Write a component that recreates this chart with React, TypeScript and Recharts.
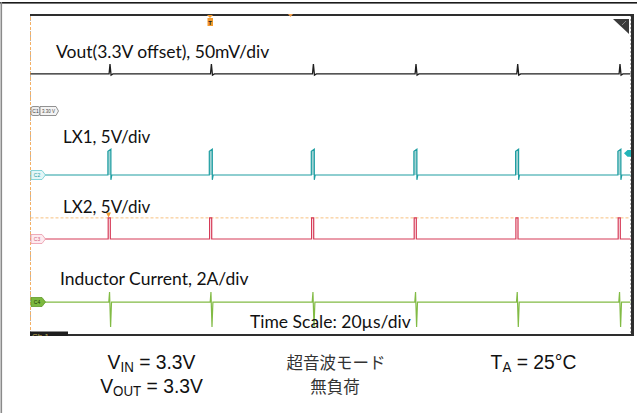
import React from 'react';
import { ComposedChart, Line, Area, XAxis, YAxis, CartesianGrid, ReferenceLine } from 'recharts';

// time axis in µs (20 µs/div, 10 div), vertical in divisions (-5..5)
const xGridTicks = [0, 20, 40, 60, 80, 100, 120, 140, 160, 180, 200];
const yGridTicks = [-5, -4, -3, -2, -1, 0, 1, 2, 3, 4, 5];

// switching burst instants (µs)
const pulseTimes = [26.5, 60.3, 94.3, 128.5, 162.4, 196.5];

// levels in divisions
const voutLevels = { base: 3.16, peak: 3.47, dip: 3.12 };
const lx1Levels = { base: 0, rise: 0.74, peak: 0.81, under: -0.15 };
const lx2Levels = { base: -2.0, peak: -1.34 };
const ilLevels = { base: -3.97, up: -3.66, down: -4.75 };
const triggerLevel = -1.34;

type P = { t: number; v: number };

const voutData: P[] = [{ t: 0, v: voutLevels.base }];
pulseTimes.forEach((p) => {
  voutData.push({ t: p - 0.3, v: voutLevels.base });
  voutData.push({ t: p, v: voutLevels.peak });
  voutData.push({ t: p + 0.35, v: voutLevels.dip });
  voutData.push({ t: p + 1.0, v: voutLevels.base });
});
voutData.push({ t: 200, v: voutLevels.base });

const lx1Data: P[] = [{ t: 0, v: lx1Levels.base }];
pulseTimes.forEach((p) => {
  lx1Data.push({ t: p - 0.7, v: lx1Levels.base });
  lx1Data.push({ t: p - 0.7, v: lx1Levels.rise });
  lx1Data.push({ t: p + 0.3, v: lx1Levels.peak });
  lx1Data.push({ t: p + 0.3, v: lx1Levels.under });
  lx1Data.push({ t: p + 0.6, v: lx1Levels.base });
});
lx1Data.push({ t: 200, v: lx1Levels.base });

const lx2Data: P[] = [{ t: 0, v: lx2Levels.base }];
pulseTimes.forEach((p) => {
  lx2Data.push({ t: p - 0.6, v: lx2Levels.base });
  lx2Data.push({ t: p - 0.6, v: lx2Levels.peak });
  lx2Data.push({ t: p + 0.1, v: lx2Levels.peak });
  lx2Data.push({ t: p + 0.1, v: lx2Levels.base });
});
lx2Data.push({ t: 200, v: lx2Levels.base });

const ilData: P[] = [{ t: 0, v: ilLevels.base }];
pulseTimes.forEach((p) => {
  ilData.push({ t: p - 0.4, v: ilLevels.base });
  ilData.push({ t: p - 0.15, v: ilLevels.up });
  ilData.push({ t: p + 0.2, v: ilLevels.down });
  ilData.push({ t: p + 0.5, v: ilLevels.base });
});
ilData.push({ t: 200, v: ilLevels.base });

const labelFont = 'Lato, "Open Sans", sans-serif';
const capFont = '"Liberation Sans", Arial, sans-serif';
const jpFont = '"Noto Sans CJK JP", sans-serif';

export default function App() {
  return (
    <div style={{ position: 'absolute', left: 0, top: 0, width: 637, height: 413, background: '#fff', overflow: 'hidden' }}>
      <ComposedChart
        width={637}
        height={413}
        margin={{ top: 15, right: 6.5, bottom: 78, left: 30.5 }}
        style={{ position: 'absolute', left: 0, top: 0 }}
      >
        <XAxis type="number" dataKey="t" domain={[0, 200]} ticks={xGridTicks} axisLine={false} tickLine={false} tick={false} height={0} allowDuplicatedCategory={false} />
        <YAxis type="number" domain={[-5, 5]} ticks={yGridTicks} axisLine={false} tickLine={false} tick={false} width={0} />
        <CartesianGrid stroke="#b4b4b4" strokeDasharray="2 2" strokeWidth={1} />
        <ReferenceLine x={0} stroke="#f5b064" strokeDasharray="3 2" />
        <ReferenceLine y={triggerLevel} stroke="#f7c07f" strokeDasharray="3 2" />
        <Line data={voutData} dataKey="v" type="linear" stroke="#1e1e1e" strokeWidth={1.3} dot={false} isAnimationActive={false} />
        <Area data={lx1Data} dataKey="v" type="linear" baseValue={0} stroke="#1f9ea2" strokeWidth={1.2} fill="#9fd2d3" fillOpacity={1} dot={false} isAnimationActive={false} />
        <Line data={lx2Data} dataKey="v" type="linear" stroke="#d63a57" strokeWidth={1.2} dot={false} isAnimationActive={false} />
        <Line data={ilData} dataKey="v" type="linear" stroke="#82bb45" strokeWidth={1.2} dot={false} isAnimationActive={false} />
      </ComposedChart>

      <svg width={637} height={413} style={{ position: 'absolute', left: 0, top: 0, pointerEvents: 'none' }}>
        {/* outer frame */}
        <rect x={0} y={2} width={637} height={1.6} fill="#1a1a1a" />
        <rect x={0.5} y={2} width={1.6} height={411} fill="#8a8a8a" />
        {/* plot borders */}
        <rect x={30} y={14} width={604} height={2} fill="#2e2e2e" />
        <rect x={30} y={334} width={604} height={2} fill="#2e2e2e" />
        <rect x={631} y={14} width={3} height={322} fill="#2e2e2e" />
        {/* corner icon */}
        <polygon points="613,19 629,19 629,34" fill="#3a3a3a" />
        <line x1={622} y1={25} x2={626} y2={21} stroke="#999" strokeWidth={0.8} />
        {/* trigger markers */}
        <polygon points="207,15 213,15 210,18" fill="#f39a2e" />
        <rect x={207.5} y={18} width={5.5} height={8} fill="#f39a2e" />
        <text x={210.2} y={24.5} fontSize={6} fontFamily={capFont} fontWeight="bold" textAnchor="middle" fill="#222">T</text>
        <polygon points="288,14 293,14 290.5,17" fill="#f3a04a" />
        <polygon points="106,212.5 111,212.5 108.5,217.5" fill="#f39a2e" />
        {/* right arrow LX1 */}
        <polygon points="624,153.3 627.5,150 631,150 631,156.7 627.5,156.7" fill="#22b4b8" />

        {/* channel badges */}
        <rect x={31} y={106.5} width={9} height={9} rx={2} fill="#eeeeee" stroke="#777" strokeWidth={0.8} />
        <text x={35.5} y={113} fontSize={5} fontFamily={capFont} textAnchor="middle" fill="#444">C1</text>
        <path d="M40,106.5 H56 L58.5,111 L56,115.5 H40 Z" fill="#f4f4f4" stroke="#777" strokeWidth={0.8} />
        <text x={48.5} y={113} fontSize={4.5} fontFamily={capFont} textAnchor="middle" fill="#444">3.30 V</text>

        <path d="M31,170.5 H42 L45.5,175 L42,179.5 H31 Z" fill="#e3f6f7" stroke="#6dcdd1" strokeWidth={0.8} />
        <text x={37} y={177} fontSize={5} fontFamily={capFont} textAnchor="middle" fill="#2a9da1">C2</text>

        <path d="M31,234.5 H42 L45.5,239 L42,243.5 H31 Z" fill="#fdebef" stroke="#eb98a8" strokeWidth={0.8} />
        <text x={37} y={241} fontSize={5} fontFamily={capFont} textAnchor="middle" fill="#d0607a">C3</text>

        <path d="M31,297.5 H42 L45.5,302 L42,306.5 H31 Z" fill="#7cb83e" stroke="#5f9a28" strokeWidth={0.8} />
        <text x={37} y={304} fontSize={5} fontFamily={capFont} textAnchor="middle" fill="#1d3a08">C4</text>

        <rect x={30} y={331.5} width={38} height={4.5} fill="#1e1e1e" />
        <clipPath id="ch1clip"><rect x={30} y={331.5} width={38} height={4.5} /></clipPath>
        <text x={32} y={339} fontSize={8} fontFamily={capFont} fill="#c8b45a" clipPath="url(#ch1clip)">Ch 1</text>

        {/* trace labels */}
        <text x={56} y={57.5} fontSize={17.5} fontFamily={labelFont} fill="#111">Vout(3.3V offset), 50mV/div</text>
        <text x={63} y={142.5} fontSize={17} fontFamily={labelFont} fill="#111">LX1, 5V/div</text>
        <text x={63} y={213} fontSize={17} fontFamily={labelFont} fill="#111">LX2, 5V/div</text>
        <text x={60} y={285} fontSize={17.5} fontFamily={labelFont} fill="#111">Inductor Current, 2A/div</text>
        <text x={250} y={328} fontSize={17.5} fontFamily={labelFont} fill="#111">Time Scale: 20µs/div</text>

        {/* conditions caption */}
        <g transform="translate(151.5,369) scale(0.92,1)">
          <text x={0} y={0} fontSize={21} fontFamily={capFont} textAnchor="middle" fill="#111">
            V<tspan fontSize={14.5} dy={3}>IN</tspan><tspan dy={-3}> = 3.3V</tspan>
          </text>
        </g>
        <g transform="translate(151.5,393) scale(0.92,1)">
          <text x={0} y={0} fontSize={21} fontFamily={capFont} textAnchor="middle" fill="#111">
            V<tspan fontSize={14.5} dy={3}>OUT</tspan><tspan dy={-3}> = 3.3V</tspan>
          </text>
        </g>
        <g transform="translate(533.5,369) scale(0.92,1)">
          <text x={0} y={0} fontSize={21} fontFamily={capFont} textAnchor="middle" fill="#111">
            T<tspan fontSize={14.5} dy={3}>A</tspan><tspan dy={-3}> = 25°C</tspan>
          </text>
        </g>
        <text x={336} y={369} fontSize={16.5} fontFamily={jpFont} textAnchor="middle" fill="#333">超音波モード</text>
        <text x={335} y={393} fontSize={16.5} fontFamily={jpFont} textAnchor="middle" fill="#333">無負荷</text>
      </svg>
    </div>
  );
}
